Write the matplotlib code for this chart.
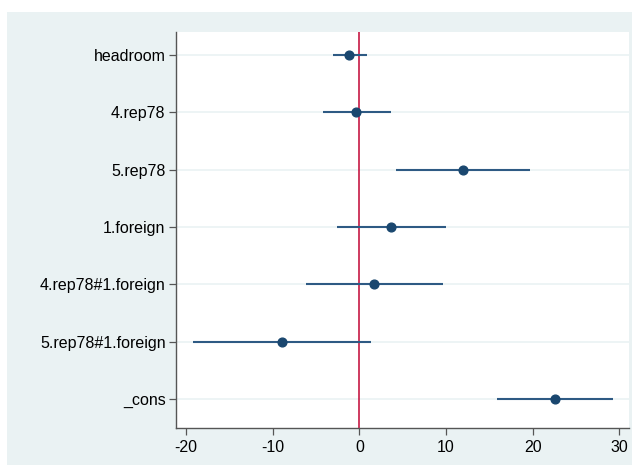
import matplotlib.pyplot as plt
from matplotlib.patches import Rectangle

# coefficient estimates with 95% confidence intervals
terms = ["headroom", "4.rep78", "5.rep78", "1.foreign",
         "4.rep78#1.foreign", "5.rep78#1.foreign", "_cons"]
coef = [-1.15, -0.35, 11.93, 3.69, 1.66, -8.96, 22.6]
ci_low = [-3.07, -4.22, 4.2, -2.57, -6.18, -19.22, 15.9]
ci_high = [0.85, 3.62, 19.66, 10.04, 9.62, 1.35, 29.3]
xticks = [-20, -10, 0, 10, 20, 30]

plt.rcParams['font.family'] = ['Liberation Sans', 'DejaVu Sans']

navy = "#1a476f"
grey_bg = "#eaf2f3"

fig = plt.figure(figsize=(6.32, 4.66), dpi=100)
fig.patch.set_facecolor("white")

# graph region background behind the plot
bg = fig.add_axes([0, 0, 1, 1], zorder=0)
bg.add_patch(Rectangle((7 / 632, 1 / 466), 625 / 632, 453 / 466,
                       facecolor=grey_bg, edgecolor="none"))
bg.set_xlim(0, 1)
bg.set_ylim(0, 1)
bg.axis("off")

ax = fig.add_axes([176 / 632, 1 - 427.7 / 466, 453 / 632, 395.7 / 466], zorder=1)
ax.set_facecolor("white")

ypos = list(range(1, len(terms) + 1))
for y in ypos:
    ax.axhline(y, color=grey_bg, lw=1.2, zorder=1)

ax.axvline(0, color="#c10534", lw=1.1, zorder=2)
ax.hlines(ypos, ci_low, ci_high, color="#2e5a84", lw=1.5, zorder=3)
ax.plot(coef, ypos, "o", color=navy, ms=6.3, zorder=4)

ax.set_xlim(-21.15, 31.1)
ax.set_ylim(7.5, 0.6)
ax.set_yticks(ypos)
ax.set_yticklabels(terms)
ax.set_xticks(xticks)
ax.set_xticklabels([str(t) for t in xticks])

for s in ["top", "right"]:
    ax.spines[s].set_visible(False)
for s in ["left", "bottom"]:
    ax.spines[s].set_color("#555555")
    ax.spines[s].set_linewidth(1.0)

ax.tick_params(axis="both", colors="#555555", labelcolor="black",
               labelsize=11.5, length=5, width=0.9)
ax.tick_params(axis="y", pad=2.5)
ax.tick_params(axis="x", pad=4)

fig.savefig("out.png", dpi=100)
